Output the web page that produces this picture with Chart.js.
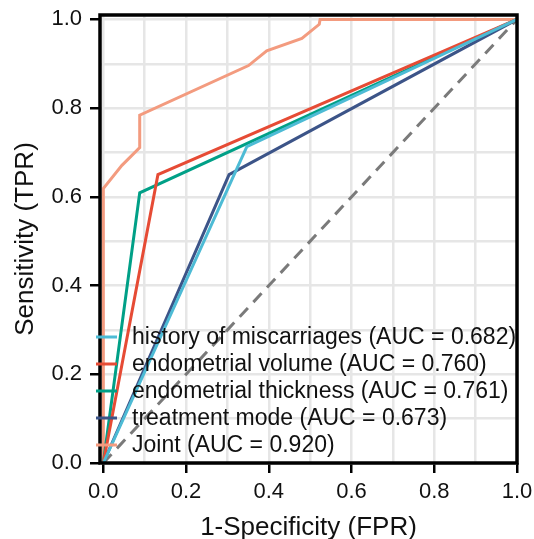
<!DOCTYPE html>
<html>
<head>
<meta charset="utf-8">
<script src="https://cdn.jsdelivr.net/npm/chart.js@4"></script>
<style>
  html, body { margin: 0; padding: 0; background: #fff; }
  #wrap { width: 534px; height: 539px; }
</style>
</head>
<body>
<div id="wrap"><canvas id="roc"></canvas></div>
<script>
// ROC curves (x = 1-Specificity, y = Sensitivity)
const fprHistory = [0, 0.347, 1];
const tprHistory = [0, 0.713, 1];
const fprVolume = [0, 0.132, 1];
const tprVolume = [0, 0.650, 1];
const fprThickness = [0, 0.088, 1];
const tprThickness = [0, 0.609, 1];
const fprTreatment = [0, 0.304, 1];
const tprTreatment = [0, 0.650, 1];
const fprJoint = [0, 0, 0.045, 0.088, 0.088, 0.351, 0.395, 0.480, 0.522, 0.524, 1];
const tprJoint = [0, 0.619, 0.671, 0.711, 0.784, 0.896, 0.929, 0.957, 0.989, 1, 1];
const refLine = [0, 1];

const seriesLabels = [
  'history of miscarriages (AUC = 0.682)',
  'endometrial volume (AUC = 0.760)',
  'endometrial thickness (AUC = 0.761)',
  'treatment mode (AUC = 0.673)',
  'Joint (AUC = 0.920)'
];
const seriesColors = ['#4DBBD5', '#E64B35', '#00A087', '#3C5488', '#F39B7F'];
const tickValues = [0, 0.1, 0.2, 0.3, 0.4, 0.5, 0.6, 0.7, 0.8, 0.9, 1.0];

const FONT = "'Liberation Sans', Arial, sans-serif";

function toPoints(xs, ys) {
  return xs.map((x, i) => ({ x: x, y: ys[i] }));
}

function isMajor(v) {
  return Math.round(v * 10) % 2 === 0;
}

const curves = [
  [fprHistory, tprHistory],
  [fprVolume, tprVolume],
  [fprThickness, tprThickness],
  [fprTreatment, tprTreatment],
  [fprJoint, tprJoint]
];

const datasets = curves.map((c, i) => ({
  label: seriesLabels[i],
  data: toPoints(c[0], c[1]),
  borderColor: seriesColors[i],
  backgroundColor: seriesColors[i],
  borderWidth: 3,
  showLine: true,
  pointRadius: 0,
  tension: 0,
  fill: false
}));

// diagonal chance line
datasets.push({
  label: 'chance',
  data: toPoints(refLine, refLine),
  borderColor: '#7a7a7a',
  borderWidth: 3,
  borderDash: [12, 8],
  showLine: true,
  pointRadius: 0,
  fill: false
});

// black frame round the plot, and legend inside the lower left corner
const framePlugin = {
  id: 'frameAndLegend',
  afterDraw(chart) {
    const { ctx, chartArea } = chart;
    ctx.save();
    ctx.strokeStyle = '#000';
    ctx.lineWidth = 3.5;
    ctx.strokeRect(chartArea.left, chartArea.top,
      chartArea.right - chartArea.left, chartArea.bottom - chartArea.top);

    ctx.font = '23px ' + FONT;
    ctx.textBaseline = 'middle';
    ctx.textAlign = 'left';
    const rowGap = 27;
    const lastY = chartArea.bottom - 18;
    seriesLabels.forEach((label, i) => {
      const y = lastY - (seriesLabels.length - 1 - i) * rowGap;
      ctx.strokeStyle = seriesColors[i];
      ctx.lineWidth = 3;
      ctx.beginPath();
      ctx.moveTo(chartArea.left - 4, y);
      ctx.lineTo(chartArea.left + 17, y);
      ctx.stroke();
      ctx.fillStyle = '#111';
      ctx.fillText(label, chartArea.left + 32, y + 1);
    });
    ctx.restore();
  }
};

function axisOptions(min, max, titleText, isY) {
  return {
    type: 'linear',
    min: min,
    max: max,
    afterBuildTicks: (scale) => {
      scale.ticks = tickValues.map(v => ({ value: v }));
    },
    afterFit: (scale) => {
      if (isY) scale.width = 100;
      else scale.height = 76;
      scale.paddingTop = 0;
      scale.paddingBottom = 0;
      scale.paddingLeft = 0;
      scale.paddingRight = 0;
    },
    ticks: {
      autoSkip: false,
      maxRotation: 0,
      padding: isY ? 8 : 6,
      color: '#111',
      font: { family: FONT, size: 22 },
      callback: (v) => isMajor(v) ? v.toFixed(1) : ''
    },
    grid: {
      color: '#e6e6e6',
      lineWidth: 2.5,
      tickLength: 10,
      tickWidth: 2.5,
      tickColor: (ctx) => (ctx.tick && isMajor(ctx.tick.value)) ? '#000' : 'rgba(0,0,0,0)'
    },
    border: { display: false },
    title: {
      display: true,
      text: titleText,
      color: '#111',
      font: { family: FONT, size: 26, lineHeight: isY ? 1 : 0.88 },
      padding: isY ? { top: 13, bottom: 0 } : { top: 0, bottom: 0 }
    }
  };
}

document.addEventListener('DOMContentLoaded', () => {
  new Chart(document.getElementById('roc').getContext('2d'), {
    type: 'scatter',
    data: { datasets: datasets },
    options: {
      responsive: true,
      maintainAspectRatio: false,
      animation: false,
      layout: { padding: { top: 15, right: 17, left: 0, bottom: 0 } },
      plugins: {
        legend: { display: false },
        tooltip: { enabled: false }
      },
      scales: {
        x: axisOptions(-0.008, 1.0, '1-Specificity (FPR)', false),
        y: axisOptions(0, 1.01, 'Sensitivity (TPR)', true)
      }
    },
    plugins: [framePlugin]
  });
});
</script>
</body>
</html>
